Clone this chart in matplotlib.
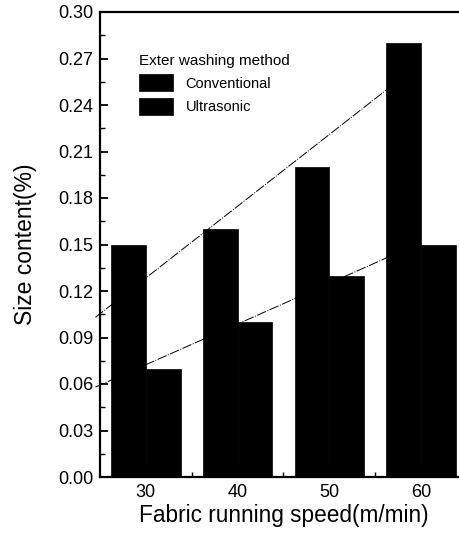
import matplotlib
matplotlib.use("Agg")
import matplotlib.pyplot as plt
import numpy as np

plt.rcParams['font.family'] = ['Liberation Sans', 'DejaVu Sans']

speeds = [30, 40, 50, 60]
conventional = [0.15, 0.16, 0.20, 0.28]
ultrasonic = [0.07, 0.10, 0.13, 0.15]
conv_trend_x = [24.5, 58.0]
conv_trend_y = [0.103, 0.258]
ultra_trend_x = [24.5, 58.0]
ultra_trend_y = [0.058, 0.146]
yticks = [0.00, 0.03, 0.06, 0.09, 0.12, 0.15, 0.18, 0.21, 0.24, 0.27, 0.30]
series_names = ['Conventional', 'Ultrasonic']
legend_title = 'Exter washing method'

fig = plt.figure(figsize=(4.6, 5.44), dpi=100)
ax = fig.add_axes([100/460, 1-477/544, 367/460, 465/544])

w = 3.8
x = np.array(speeds, dtype=float)
ax.bar(x - w/2, conventional, width=w, color='black', edgecolor='black',
       linewidth=0.5, label=series_names[0], zorder=3)
ax.bar(x + w/2, ultrasonic, width=w, color='black', edgecolor='black',
       linewidth=0.5, label=series_names[1], zorder=3)

ax.plot(conv_trend_x, conv_trend_y, color='black', lw=0.7,
        linestyle=(0, (10, 1.5, 1, 1.5)), zorder=2, clip_on=False)
ax.plot(ultra_trend_x, ultra_trend_y, color='black', lw=0.7,
        linestyle=(0, (10, 1.5, 1, 1.5)), zorder=2, clip_on=False)

ax.set_xlim(25, 65)
ax.set_ylim(0, 0.30)
ax.set_xticks(speeds)
ax.set_xticklabels([str(s) for s in speeds], fontsize=13)
ax.set_xticks([35, 45, 55], minor=True)
ax.set_yticks(yticks)
ax.set_yticklabels(['%.2f' % t for t in yticks], fontsize=13)
ax.set_yticks(np.arange(0.015, 0.30, 0.03), minor=True)
ax.tick_params(axis='both', which='major', direction='in', length=6, width=1.3, pad=5)
ax.tick_params(axis='both', which='minor', direction='in', length=3.5, width=1.0)
ax.tick_params(axis='y', which='both', right=False)
ax.tick_params(axis='x', which='both', top=False)
for s in ['left', 'bottom', 'top']:
    ax.spines[s].set_linewidth(1.6)
ax.spines['right'].set_visible(False)

ax.set_xlabel('Fabric running speed(m/min)', fontsize=16.3, labelpad=2)
ax.set_ylabel('Size content(%)', fontsize=16.5, labelpad=15)

leg = ax.legend(title=legend_title, loc='upper left', bbox_to_anchor=(0.105, 0.91),
                frameon=False, fontsize=10.5, title_fontsize=11,
                handlelength=2.33, handleheight=1.4, labelspacing=0.45,
                handletextpad=0.9, borderaxespad=0, borderpad=0)
leg._legend_box.align = 'left'

fig.savefig('out.png', dpi=100)
